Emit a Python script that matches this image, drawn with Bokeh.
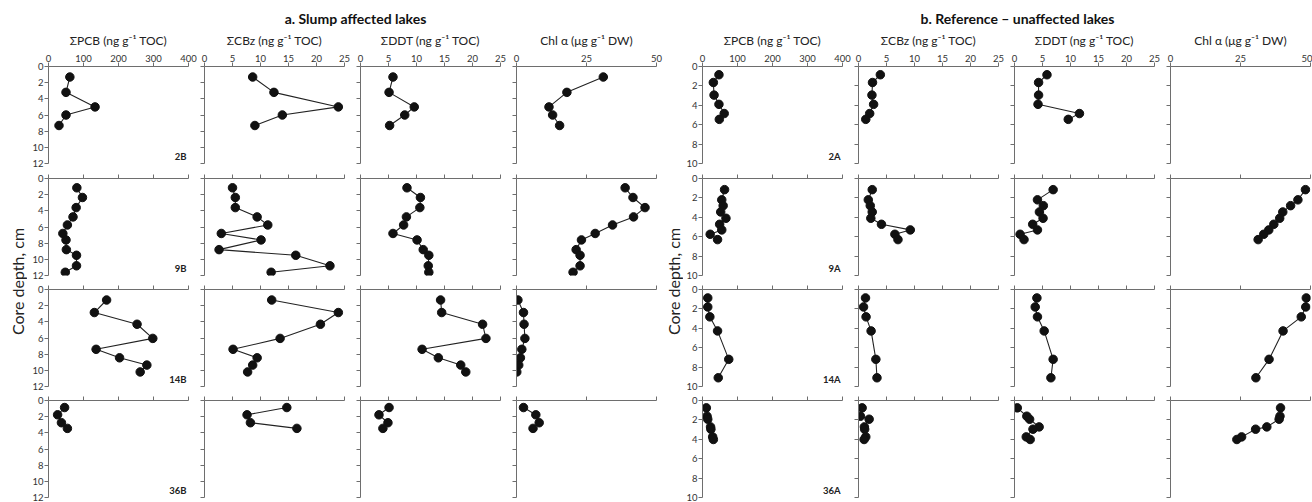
from math import pi
from bokeh.plotting import figure
from bokeh.layouts import row, column
from bokeh.models import Range1d, FixedTicker, Label, CustomJSTickFormatter
from bokeh.embed import file_html
from bokeh.resources import INLINE

FONT = "Lato"

# ---------------- data ----------------
group_titles = ["a. Slump affected lakes", "b. Reference \u2013 unaffected lakes"]
var_titles = ["\u03a3PCB (ng g\u207b\u00b9 TOC)", "\u03a3CBz (ng g\u207b\u00b9 TOC)",
              "\u03a3DDT (ng g\u207b\u00b9 TOC)", "Chl \u03b1 (\u03bcg g\u207b\u00b9 DW)"]
x_max = [400, 25, 25, 50]
x_ticks = [[0, 100, 200, 300, 400], [0, 5, 10, 15, 20, 25], [0, 5, 10, 15, 20, 25], [0, 25, 50]]
y_title = "Core depth, cm"

cores_a = ["2B", "9B", "14B", "36B"]
cores_b = ["2A", "9A", "14A", "36A"]
depth_ticks_a = [0, 2, 4, 6, 8, 10, 12]
depth_ticks_b = [0, 2, 4, 6, 8, 10]

# slump affected lakes
depth_2B = [1.3, 3.2, 5.0, 6.0, 7.3]
pcb_2B = [61, 50, 133, 50, 30]
cbz_2B = [8.6, 12.4, 23.9, 13.9, 9.0]
ddt_2B = [5.8, 5.1, 9.6, 7.9, 5.2]
chl_2B = [31.0, 18.0, 11.6, 12.9, 15.4]

depth_9B = [1.15, 2.35, 3.6, 4.75, 5.75, 6.8, 7.6, 8.8, 9.5, 10.8, 11.6]
pcb_9B = [81, 97, 79, 70, 54, 41, 50, 51, 80, 80, 48]
cbz_9B = [5.0, 5.5, 5.5, 9.4, 11.3, 3.0, 10.1, 2.6, 16.3, 22.4, 11.9]
ddt_9B = [8.3, 10.7, 10.6, 8.2, 7.7, 5.8, 10.1, 11.2, 12.2, 12.1, 12.2]
chl_9B = [38.8, 41.6, 45.9, 41.8, 34.3, 28.1, 23.2, 21.3, 22.7, 22.7, 20.2]

depth_14B = [1.3, 2.85, 4.3, 6.05, 7.4, 8.45, 9.35, 10.2]
pcb_14B = [166, 131, 253, 298, 136, 203, 281, 262]
cbz_14B = [12.0, 23.9, 20.7, 13.5, 5.1, 9.4, 8.6, 7.7]
ddt_14B = [14.3, 14.5, 21.8, 22.4, 11.0, 13.9, 17.9, 18.8]
chl_14B = [0.5, 2.5, 2.7, 3.0, 1.9, 1.4, 0.8, 0.1]

depth_36B = [0.87, 1.77, 2.75, 3.45]
pcb_36B = [46, 26, 37, 54]
cbz_36B = [14.7, 7.6, 8.2, 16.5]
ddt_36B = [5.1, 3.3, 4.9, 4.0]
chl_36B = [2.5, 6.9, 8.1, 5.9]

# reference lakes
depth_2A = [0.85, 1.65, 2.95, 3.9, 4.85, 5.45]
pcb_2A = [47, 31, 33, 47, 62, 48]
cbz_2A = [3.9, 2.5, 2.4, 2.7, 2.0, 1.3]
ddt_2A = [5.8, 4.3, 4.3, 4.2, 11.6, 9.6]
chl_2A = []

depth_9A = [1.15, 2.2, 2.8, 3.45, 4.1, 4.72, 5.3, 5.75, 6.3]
pcb_9A = [63, 55, 59, 52, 67, 49, 55, 22, 43]
cbz_9A = [2.45, 1.75, 2.1, 2.45, 2.2, 4.1, 9.25, 6.5, 7.05]
ddt_9A = [6.9, 4.1, 5.15, 4.45, 5.1, 3.25, 4.1, 1.0, 1.7]
chl_9A = [48.2, 45.5, 42.9, 40.1, 39.0, 36.9, 35.1, 33.3, 31.3]

depth_14A = [0.87, 1.8, 2.82, 4.27, 7.2, 9.1]
pcb_14A = [15, 15, 21, 43, 75, 45]
cbz_14A = [1.25, 0.9, 1.35, 2.25, 3.1, 3.3]
ddt_14A = [4.0, 3.7, 4.1, 5.3, 6.9, 6.5]
chl_14A = [48.5, 48.3, 46.7, 40.2, 35.2, 30.5]

depth_36A = [0.76, 1.62, 1.93, 2.72, 2.96, 3.75, 4.02]
pcb_36A = [11, 13, 15, 23, 24, 29, 31]
cbz_36A = [0.65, 0.35, 1.9, 1.05, 1.1, 1.3, 1.0]
ddt_36A = [0.5, 2.2, 2.7, 4.4, 3.3, 2.1, 2.8]
chl_36A = [39.3, 39.1, 38.8, 34.4, 30.4, 25.4, 23.7]

core_data = {
    "2B": (depth_2B, [pcb_2B, cbz_2B, ddt_2B, chl_2B]),
    "9B": (depth_9B, [pcb_9B, cbz_9B, ddt_9B, chl_9B]),
    "14B": (depth_14B, [pcb_14B, cbz_14B, ddt_14B, chl_14B]),
    "36B": (depth_36B, [pcb_36B, cbz_36B, ddt_36B, chl_36B]),
    "2A": (depth_2A, [pcb_2A, cbz_2A, ddt_2A, chl_2A]),
    "9A": (depth_9A, [pcb_9A, cbz_9A, ddt_9A, chl_9A]),
    "14A": (depth_14A, [pcb_14A, cbz_14A, ddt_14A, chl_14A]),
    "36A": (depth_36A, [pcb_36A, cbz_36A, ddt_36A, chl_36A]),
}

# ---------------- styling ----------------
AXIS_COLOR = "#6e6e6e"
TEXT_COLOR = "#333333"
ROW_H = [142, 111, 111, 110]
ROW_TOP = [38, 8, 8, 8]
ROW_BOT = [7, 6, 6, 5]
FRAME_W = 140


def style_axis(ax, show_labels):
    ax.axis_line_color = AXIS_COLOR
    ax.axis_line_width = 1
    ax.major_tick_line_color = AXIS_COLOR
    ax.major_tick_in = 0
    ax.major_tick_out = 4
    ax.minor_tick_line_color = None
    ax.major_label_text_font = FONT
    ax.major_label_text_color = TEXT_COLOR
    ax.major_label_standoff = 1
    ax.major_label_orientation = "horizontal"
    if show_labels:
        ax.major_label_text_font_size = "9.5px"
    else:
        ax.major_label_text_font_size = "0px"
        ax.major_label_standoff = 0
        ax.formatter = CustomJSTickFormatter(code="return ''")


def make_panel(core, i, j, depth_max, depth_ticks, left_first, last_right):
    depth, series = core_data[core]
    vals = series[j]
    left = left_first if j == 0 else 7
    right = last_right if j == 3 else 9
    p = figure(width=left + FRAME_W + right, height=ROW_H[i],
               x_range=Range1d(0, x_max[j]), y_range=Range1d(depth_max, 0),
               x_axis_location="above", toolbar_location=None, output_backend="svg",
               min_border_left=left, min_border_right=right,
               min_border_top=ROW_TOP[i], min_border_bottom=ROW_BOT[i])
    p.grid.visible = False
    p.outline_line_color = None
    p.background_fill_color = "white"
    p.border_fill_color = "white"
    p.xaxis.ticker = FixedTicker(ticks=x_ticks[j])
    p.yaxis.ticker = FixedTicker(ticks=depth_ticks)
    style_axis(p.xaxis[0], i == 0)
    style_axis(p.yaxis[0], j == 0)
    if i == 0:
        p.xaxis.axis_label = var_titles[j]
        p.xaxis.axis_label_text_font = FONT
        p.xaxis.axis_label_text_font_style = "normal"
        p.xaxis.axis_label_text_font_size = "12px"
        p.xaxis.axis_label_text_color = "#222222"
        p.xaxis.axis_label_standoff = 4
    if len(vals) > 0:
        p.line(vals, depth, line_color="#222222", line_width=1.1)
        p.scatter(vals, depth, size=8.5, fill_color="#111111", line_color="#111111")
    if j == 0:
        p.add_layout(Label(x=x_max[j], y=depth_max, x_offset=-2, y_offset=2,
                           text=core, text_align="right", text_baseline="bottom",
                           text_font=FONT, text_font_style="bold",
                           text_font_size="9.5px", text_color="#222222"))
    return p


def make_group(cores, depth_max, depth_ticks, left_first, last_right):
    rows = []
    for i, core in enumerate(cores):
        rows.append(row(*[make_panel(core, i, j, depth_max, depth_ticks, left_first, last_right)
                          for j in range(4)]))
    return column(*rows)


def make_ylabel(width, center_x):
    h = sum(ROW_H)
    p = figure(width=width, height=h, x_range=Range1d(0, width), y_range=Range1d(0, h),
               x_axis_type=None, y_axis_type=None, toolbar_location=None,
               output_backend="svg", min_border=0)
    p.grid.visible = False
    p.outline_line_color = None
    p.add_layout(Label(x=center_x, y=h - 253, text=y_title, angle=pi / 2,
                       text_align="center", text_baseline="middle",
                       text_font=FONT, text_font_size="16px", text_color="#222222"))
    return p


header = figure(width=1312, height=28, x_range=Range1d(0, 1312), y_range=Range1d(0, 28),
                x_axis_type=None, y_axis_type=None, toolbar_location=None,
                output_backend="svg", min_border=0)
header.grid.visible = False
header.outline_line_color = None
for gx, gt in zip([355, 1017], group_titles):
    header.add_layout(Label(x=gx, y=10, text=gt, text_align="center", text_baseline="middle",
                            text_font=FONT, text_font_style="bold", text_font_size="14px",
                            text_color="#111111"))

# widths: left 27 + 170 + 156 + 156 + 154 = 663 ; right 20 + 168 + 156 + 156 + 149 = 649
group_a = make_group(cores_a, 12, depth_ticks_a, 21, 7)
group_b = make_group(cores_b, 10, depth_ticks_b, 19, 2)

layout = column(header, row(make_ylabel(27, 17), group_a, make_ylabel(20, 10), group_b))

open("out.html", "w").write(file_html(layout, INLINE))
